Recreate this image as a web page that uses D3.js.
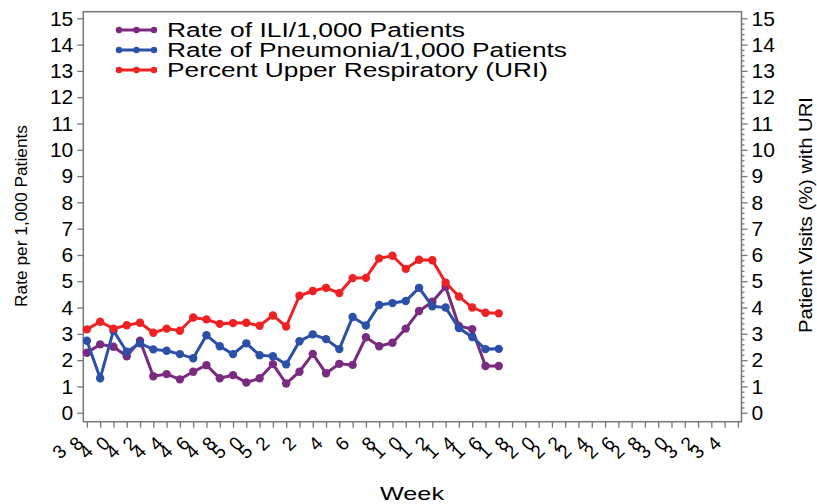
<html>
<head>
<script src="https://cdn.jsdelivr.net/npm/d3@7/dist/d3.min.js"></script>
<style>
	body { margin:0; background:#fff; }
	text { font-family: "Liberation Sans", Arial, sans-serif; fill:#000; }
</style>
</head>
<body>
<svg id="svg" width="817" height="504"></svg>
<script>
// weeks on the x axis (flu season, week 38 to week 35)
const weeks = [38,39,40,41,42,43,44,45,46,47,48,49,50,51,52,
	1,2,3,4,5,6,7,8,9,10,11,12,13,14,15,16,17,18,19,20,21,22,23,24,25,26,27,28,29,30,31,32,33,34,35];
const weekLabels = [38,40,42,44,46,48,50,52,2,4,6,8,10,12,14,16,18,20,22,24,26,28,30,32,34];
const yTicks = [0,1,2,3,4,5,6,7,8,9,10,11,12,13,14,15];

// values, one per reported week starting at week 38
const iliRate = [2.28,2.6,2.51,2.15,2.74,1.39,1.47,1.27,1.56,1.81,1.31,1.43,1.15,1.31,1.85,1.11,
	1.56,2.24,1.5,1.86,1.82,2.87,2.53,2.66,3.2,3.87,4.22,4.8,3.3,3.18,1.78,1.78];
const pneuRate = [2.74,1.31,3.12,2.32,2.64,2.41,2.36,2.23,2.07,2.95,2.53,2.23,2.64,2.19,2.15,1.84,
	2.72,2.98,2.8,2.42,3.64,3.32,4.1,4.17,4.25,4.75,4.05,4.0,3.22,2.88,2.42,2.43];
const uriPct = [3.17,3.46,3.2,3.33,3.42,3.04,3.2,3.12,3.62,3.55,3.38,3.41,3.42,3.31,3.7,3.28,
	4.45,4.63,4.75,4.55,5.12,5.13,5.87,5.97,5.47,5.82,5.8,4.95,4.42,4.0,3.8,3.78];

const seriesNames = ["Rate of ILI/1,000 Patients","Rate of Pneumonia/1,000 Patients","Percent Upper Respiratory (URI)"];
const seriesColors = ["#7a2a80","#2b50a8","#ee2222"];

// plot frame
const frame = { left:83.3, right:741.5, top:11.7, bottom:421.7 };
const axisColor = "#777";

let x = d3.scalePoint()
	.domain(weeks)
	.range([frame.left, frame.right])
	.padding(0.27);
let y = d3.scaleLinear()
	.domain([-0.34, 15.25])
	.range([frame.bottom, frame.top]);

let svg = d3.select('#svg');

// LEFT AXIS
let leftAxis = svg.append("g")
	.attr("transform", `translate(${frame.left},0)`)
	.call(d3.axisLeft(y).tickValues(yTicks).tickSize(6).tickPadding(4).tickFormat(d3.format("d")));

// RIGHT AXIS - minor ticks first, then the labelled ones
let minor = d3.range(0, 75).map(i => i/5).filter(v => v % 1 !== 0);
svg.append("g")
	.attr("transform", `translate(${frame.right},0)`)
	.call(d3.axisRight(y).tickValues(minor).tickSize(3).tickFormat(""));
let rightAxis = svg.append("g")
	.attr("transform", `translate(${frame.right},0)`)
	.call(d3.axisRight(y).tickValues(yTicks).tickSize(6).tickPadding(4).tickFormat(d3.format("d")));

// BOTTOM AXIS
let bottomAxis = svg.append("g")
	.attr("transform", `translate(0,${frame.bottom})`)
	.call(d3.axisBottom(x).tickSize(6).tickFormat(""));

svg.selectAll(".domain").remove();
svg.selectAll(".tick line").attr("stroke", axisColor).attr("stroke-width", 1.3);
leftAxis.selectAll("text").attr("font-size", "21px").attr("font-family", "Liberation Sans, Arial");
rightAxis.selectAll("text").attr("font-size", "21px").attr("font-family", "Liberation Sans, Arial");

// week labels: every glyph turned 45 degrees, glyphs laid out along a shallow slant
bottomAxis.selectAll(".tick")
	.filter(d => weekLabels.includes(d))
	.each(function(d) {
		let s = String(d).split("");
		let g = d3.select(this);
		s.forEach((ch, i) => {
			let back = s.length - 1 - i;
			g.append("text")
				.attr("transform", `translate(${-11 - 17*back},${22 + 8*back}) rotate(-45)`)
				.attr("text-anchor", "middle")
				.attr("dominant-baseline", "central")
				.attr("font-size", "19px")
				.attr("fill", "#000")
				.text(ch);
		});
	});

// frame box
svg.append("rect")
	.attr("x", frame.left).attr("y", frame.top)
	.attr("width", frame.right - frame.left).attr("height", frame.bottom - frame.top)
	.attr("fill", "none").attr("stroke", axisColor).attr("stroke-width", 1.5);

// SERIES
const allSeries = [iliRate, pneuRate, uriPct];
let line = d3.line()
	.x((d, i) => x(weeks[i]))
	.y(d => y(d));

allSeries.forEach((vals, s) => {
	let g = svg.append("g");
	g.append("path")
		.attr("d", line(vals))
		.attr("fill", "none")
		.attr("stroke", seriesColors[s])
		.attr("stroke-width", 3);
	g.selectAll("circle")
		.data(vals)
		.enter().append("circle")
		.attr("cx", (d, i) => x(weeks[i]))
		.attr("cy", d => y(d))
		.attr("r", 4.2)
		.attr("fill", seriesColors[s]);
});

// LEGEND
const legendLen = [298, 400, 381];
seriesNames.forEach((name, i) => {
	let yy = 30 + 20*i;
	let g = svg.append("g");
	g.append("line")
		.attr("x1", 116).attr("x2", 157).attr("y1", yy).attr("y2", yy)
		.attr("stroke", seriesColors[i]).attr("stroke-width", 3);
	[119, 136.5, 154].forEach(cx => {
		g.append("circle").attr("cx", cx).attr("cy", yy).attr("r", 3.2).attr("fill", seriesColors[i]);
	});
	g.append("text")
		.attr("x", 167).attr("y", yy + 7)
		.attr("font-size", "20px")
		.attr("textLength", legendLen[i])
		.attr("lengthAdjust", "spacingAndGlyphs")
		.text(name);
});

// AXIS TITLES
svg.append("text")
	.attr("transform", "translate(27,216) rotate(-90)")
	.attr("text-anchor", "middle")
	.attr("font-size", "17px")
	.attr("textLength", 182)
	.attr("lengthAdjust", "spacingAndGlyphs")
	.text("Rate per 1,000 Patients");

svg.append("text")
	.attr("transform", "translate(812,215) rotate(-90)")
	.attr("text-anchor", "middle")
	.attr("font-size", "18px")
	.attr("textLength", 236)
	.attr("lengthAdjust", "spacingAndGlyphs")
	.text("Patient Visits (%) with URI");

svg.append("text")
	.attr("x", 412).attr("y", 500)
	.attr("text-anchor", "middle")
	.attr("font-size", "19px")
	.attr("textLength", 64)
	.attr("lengthAdjust", "spacingAndGlyphs")
	.text("Week");
</script>
</body>
</html>
